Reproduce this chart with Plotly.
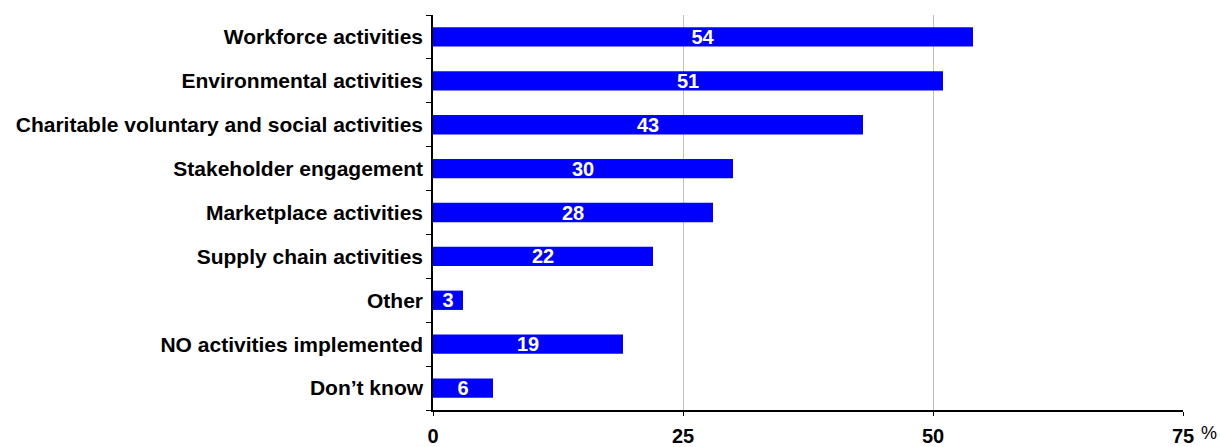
import plotly.graph_objects as go

categories = [
    "Workforce activities",
    "Environmental activities",
    "Charitable voluntary and social activities",
    "Stakeholder engagement",
    "Marketplace activities",
    "Supply chain activities",
    "Other",
    "NO activities implemented",
    "Don\u2019t know",
]
values = [54, 51, 43, 30, 28, 22, 3, 19, 6]
x_ticks = [0, 25, 50, 75]

FONT = "Liberation Sans, Arial, sans-serif"

fig = go.Figure(
    go.Bar(
        y=categories,
        x=values,
        orientation="h",
        marker=dict(color="#0000FF", line=dict(width=0)),
        width=0.44,
        text=[str(v) for v in values],
        textposition="inside",
        insidetextanchor="middle",
        textangle=0,
        textfont=dict(family=FONT, size=20, color="white", weight="bold"),
        cliponaxis=False,
    )
)

fig.update_layout(
    width=1220,
    height=447,
    margin=dict(l=433, r=37, t=15, b=37),
    plot_bgcolor="white",
    paper_bgcolor="white",
    showlegend=False,
    font=dict(family=FONT, size=20, color="black"),
    uniformtext=dict(minsize=20, mode="show"),
)

fig.update_xaxes(
    range=[0, 75],
    tickvals=x_ticks,
    ticktext=[str(t) for t in x_ticks],
    showgrid=True,
    gridcolor="#C0C0C0",
    gridwidth=1,
    zeroline=False,
    showline=True,
    linecolor="black",
    linewidth=1.5,
    ticks="outside",
    ticklen=4,
    tickcolor="black",
    tickfont=dict(family=FONT, size=20, weight="bold"),
    ticklabelstandoff=3,
    automargin=False,
    fixedrange=True,
)

fig.update_yaxes(
    categoryorder="array",
    categoryarray=categories[::-1],
    autorange=False,
    range=[-0.5, len(categories) - 0.5],
    showline=True,
    linecolor="black",
    linewidth=1.5,
    ticks="outside",
    tickson="boundaries",
    ticklen=5,
    tickcolor="black",
    tickfont=dict(family=FONT, size=21, weight="bold"),
    ticklabelstandoff=4,
    showgrid=False,
    automargin=False,
    fixedrange=True,
)

fig.add_annotation(
    x=1.0,
    y=0,
    xref="paper",
    yref="paper",
    xanchor="left",
    yanchor="middle",
    xshift=16,
    yshift=-23,
    text="%",
    showarrow=False,
    font=dict(family=FONT, size=18, color="black"),
)

fig.write_html("out.html")
